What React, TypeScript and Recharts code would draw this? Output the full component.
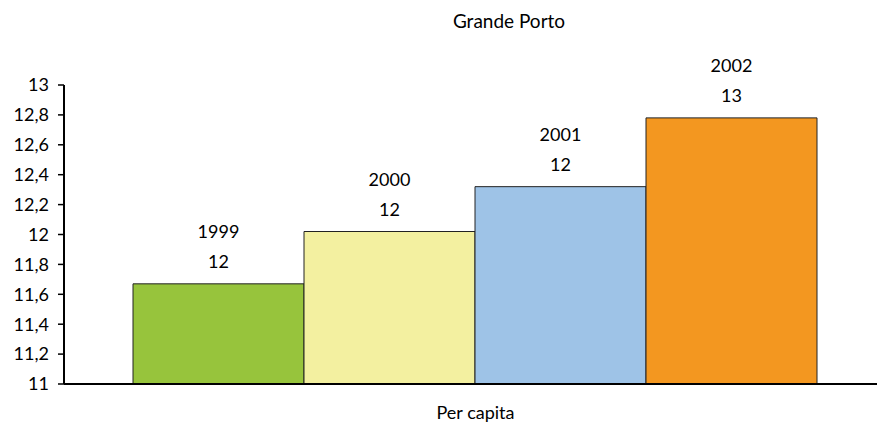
import React from "react";
import { BarChart, Bar, XAxis, YAxis, LabelList } from "recharts";

const categories = ["Per capita"];
const years = ["1999", "2000", "2001", "2002"];
const values = [11.67, 12.02, 12.32, 12.78];
const colors = ["#97C43C", "#F3F0A0", "#9EC3E7", "#F39720"];
const yTicks = [11, 11.2, 11.4, 11.6, 11.8, 12, 12.2, 12.4, 12.6, 12.8, 13];
const title = "Grande Porto";

const data = categories.map((c) => {
  const row: Record<string, string | number> = { name: c };
  years.forEach((y, i) => {
    row["y" + y] = values[i];
  });
  return row;
});

const FONT = "Lato, 'Open Sans', sans-serif";

const fmt = (v: number) => String(v).replace(".", ",");

const makeLabel = (year: string) => (props: any) => {
  const { x, y, width, value } = props;
  const cx = x + width / 2;
  return (
    <g>
      <text x={cx} y={y - 53} textAnchor="middle" dominantBaseline="central" fontFamily={FONT} fontSize={18} fill="#000">
        {year}
      </text>
      <text x={cx} y={y - 23} textAnchor="middle" dominantBaseline="central" fontFamily={FONT} fontSize={18} fill="#000">
        {Math.round(value)}
      </text>
    </g>
  );
};

const XTick = (props: any) => {
  const { x, payload } = props;
  return (
    <text x={x} y={412} textAnchor="middle" dominantBaseline="central" fontFamily={FONT} fontSize={18} fill="#000">
      {payload.value}
    </text>
  );
};

export default function App() {
  return (
    <div style={{ position: "absolute", left: 0, top: 0, width: 877, height: 425, background: "#fff" }}>
      <BarChart
        width={877}
        height={425}
        data={data}
        margin={{ top: 85, right: 0, bottom: 0, left: 0 }}
        barCategoryGap={59}
        barGap={0}
      >
        <text x={509} y={20} textAnchor="middle" dominantBaseline="central" fontFamily={FONT} fontSize={19} fill="#000">
          {title}
        </text>
        <XAxis
          dataKey="name"
          height={41}
          padding={{ left: 10, right: 0 }}
          axisLine={{ stroke: "#000", strokeWidth: 2 }}
          tickLine={false}
          tick={<XTick />}
        />
        <YAxis
          domain={[11, 13]}
          ticks={yTicks}
          width={64}
          interval={0}
          allowDataOverflow
          tickFormatter={fmt}
          axisLine={{ stroke: "#000", strokeWidth: 2 }}
          tickLine={{ stroke: "#000", strokeWidth: 1.5 }}
          tickSize={6}
          tickMargin={9}
          tick={{ fontFamily: FONT, fontSize: 18, fill: "#000" }}
        />
        {years.map((y, i) => (
          <Bar
            key={y}
            dataKey={"y" + y}
            fill={colors[i]}
            stroke="#222"
            strokeWidth={1}
            isAnimationActive={false}
          >
            <LabelList dataKey={"y" + y} content={makeLabel(y)} />
          </Bar>
        ))}
      </BarChart>
    </div>
  );
}
